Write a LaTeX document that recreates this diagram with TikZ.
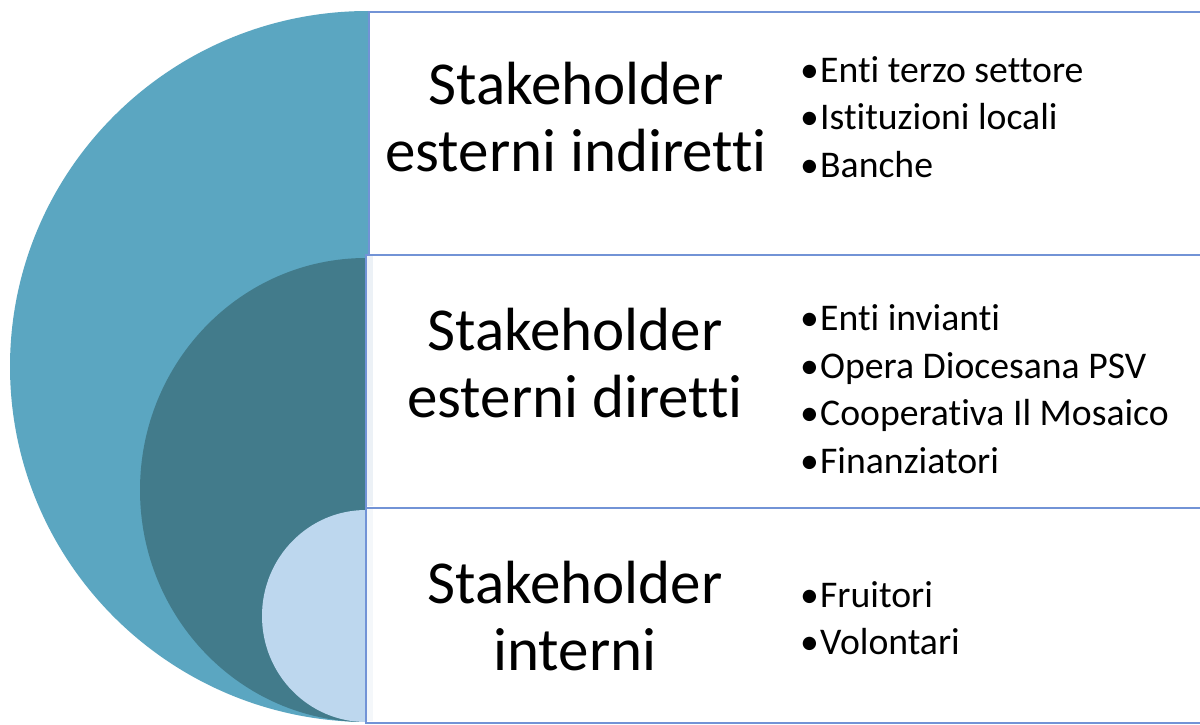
\documentclass[tikz,border=0pt]{standalone}
\usepackage{fontspec}
\setmainfont{Carlito}[RawFeature={-liga;-clig;-calt;-dlig}]
\definecolor{outerc}{RGB}{91,166,193}
\definecolor{midc}{RGB}{66,123,139}
\definecolor{innerc}{RGB}{189,215,238}
\definecolor{boxline}{RGB}{114,147,214}
\definecolor{stripc}{RGB}{236,241,246}
\newcommand{\bl}[1]{\makebox[20pt][l]{•}#1}
\begin{document}
\begin{tikzpicture}[x=1pt,y=-1pt,
 box/.style={draw=boxline, line width=2pt, fill=white, inner sep=0, anchor=north west},
 head/.style={font=\fontsize{61}{67}\selectfont, align=center, inner sep=0},
 list/.style={font=\fontsize{37.7}{47.5}\selectfont, align=left, anchor=west, inner sep=0}]
\useasboundingbox (0,0) rectangle (1200,725);
\fill[white] (0,0) rectangle (1200,725);
% nested half ellipses
\begin{scope}
  \clip (0,0) rectangle (368,725);
  \fill[outerc] (368,366.5) ellipse [x radius=358pt, y radius=355.5pt];
\end{scope}
\begin{scope}
  \clip (0,0) rectangle (366,725);
  \fill[midc] (366,490) ellipse [x radius=226pt, y radius=232pt];
  \fill[innerc] (366,616) ellipse [x radius=104pt, y radius=106pt];
\end{scope}
% boxes
\node[box, minimum width=840pt, minimum height=243pt] (b1) at (368,11) {};
\node[box, minimum width=843pt, minimum height=253pt] (b2) at (365,254) {};
\node[box, minimum width=843pt, minimum height=215pt] (b3) at (365,507) {};
\fill[stripc] (366.5,255.5) rectangle (373,505.5);
\fill[stripc!60!white] (366.5,508.5) rectangle (373,720.5);
% headings
\node[head] (h1) at (576,117) {Stakeholder\\esterni indiretti};
\node[head] (h2) at (575,363) {Stakeholder\\esterni diretti};
\node[head] (h3) at (575,616) {Stakeholder\\interni};
% lists
\node[list] (l1) at (800,117) {\bl{Enti terzo settore}\\\bl{Istituzioni locali}\\\bl{Banche}};
\node[list] (l2) at (800,389) {\bl{Enti invianti}\\\bl{Opera Diocesana PSV}\\\bl{Cooperativa Il Mosaico}\\\bl{Finanziatori}};
\node[list] (l3) at (800,618) {\bl{Fruitori}\\\bl{Volontari}};
\end{tikzpicture}
\end{document}
